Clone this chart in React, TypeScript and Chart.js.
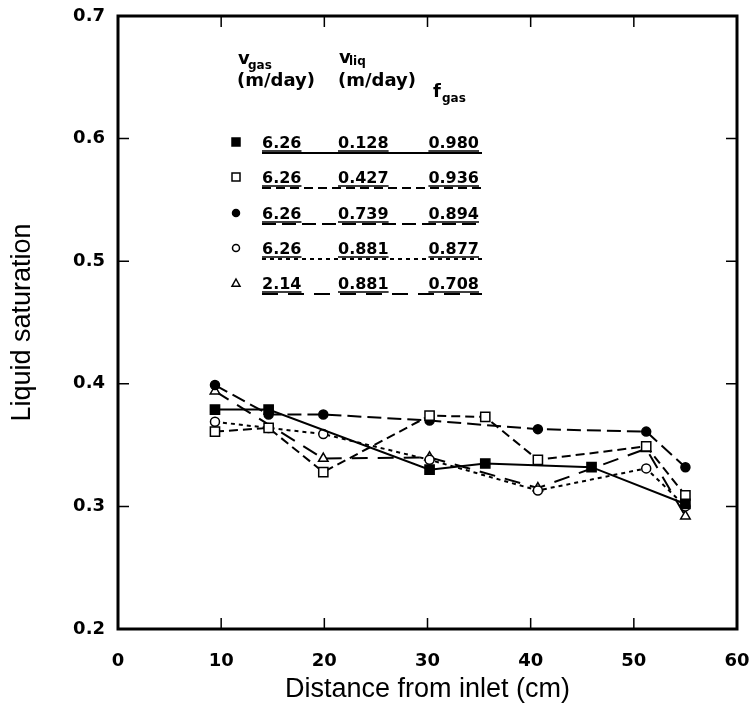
import React, { useEffect, useRef } from "react";
import { Chart, registerables } from "chart.js";

Chart.register(...registerables);

// ---- axes ----
const X_TICKS = [0, 10, 20, 30, 40, 50, 60];
const Y_TICKS = [0.2, 0.3, 0.4, 0.5, 0.6, 0.7];
const X_TITLE = "Distance from inlet (cm)";
const Y_TITLE = "Liquid saturation";

// ---- series (distance cm, liquid saturation) ----
const s1Dist = [9.4, 14.6, 30.2, 35.6, 45.9, 55.0];
const s1Sat = [0.379, 0.379, 0.33, 0.335, 0.332, 0.302];

const s2Dist = [9.4, 14.6, 19.9, 30.2, 35.6, 40.7, 51.2, 55.0];
const s2Sat = [0.361, 0.364, 0.328, 0.374, 0.373, 0.338, 0.349, 0.309];

const s3Dist = [9.4, 14.6, 19.9, 30.2, 40.7, 51.2, 55.0];
const s3Sat = [0.399, 0.375, 0.375, 0.37, 0.363, 0.361, 0.332];

const s4Dist = [9.4, 14.6, 19.9, 30.2, 40.7, 51.2, 55.0];
const s4Sat = [0.369, 0.364, 0.359, 0.338, 0.313, 0.331, 0.3];

const s5Dist = [9.4, 19.9, 30.2, 40.7, 51.2, 55.0];
const s5Sat = [0.394, 0.339, 0.34, 0.315, 0.347, 0.292];

// ---- legend table ----
const vGas = ["6.26", "6.26", "6.26", "6.26", "2.14"];
const vLiq = ["0.128", "0.427", "0.739", "0.881", "0.881"];
const fGas = ["0.980", "0.936", "0.894", "0.877", "0.708"];

type Style = { shape: "rect" | "circle" | "triangle"; filled: boolean; dash: number[]; r: number };
const STYLES: Style[] = [
  { shape: "rect", filled: true, dash: [], r: 6.5 },
  { shape: "rect", filled: false, dash: [9, 5], r: 6.5 },
  { shape: "circle", filled: true, dash: [14, 6], r: 4.5 },
  { shape: "circle", filled: false, dash: [4, 4], r: 4.5 },
  { shape: "triangle", filled: false, dash: [16, 10], r: 5.5 },
];

const FONT = "'DejaVu Sans', sans-serif";
const TITLE_FONT = "'Liberation Sans', sans-serif";

function drawMarker(ctx: CanvasRenderingContext2D, st: Style, x: number, y: number, s: number) {
  ctx.save();
  ctx.setLineDash([]);
  ctx.lineWidth = 1.5;
  ctx.strokeStyle = "#000";
  ctx.fillStyle = st.filled ? "#000" : "#fff";
  ctx.beginPath();
  if (st.shape === "rect") {
    ctx.rect(x - s, y - s, 2 * s, 2 * s);
  } else if (st.shape === "circle") {
    ctx.arc(x, y, s, 0, Math.PI * 2);
  } else {
    ctx.moveTo(x, y - s);
    ctx.lineTo(x + s, y + s * 0.8);
    ctx.lineTo(x - s, y + s * 0.8);
    ctx.closePath();
  }
  ctx.fill();
  ctx.stroke();
  ctx.restore();
}

const framePlugin = {
  id: "frameAndTable",
  afterDraw(chart: any) {
    const { ctx, chartArea: a, scales } = chart;
    ctx.save();
    ctx.strokeStyle = "#000";
    ctx.setLineDash([]);
    // frame
    ctx.lineWidth = 3;
    ctx.strokeRect(a.left, a.top, a.right - a.left, a.bottom - a.top);
    // inward ticks
    ctx.lineWidth = 1.5;
    const tl = 11;
    ctx.beginPath();
    X_TICKS.forEach((v) => {
      const x = scales.x.getPixelForValue(v);
      if (x <= a.left + 1 || x >= a.right - 1) return;
      ctx.moveTo(x, a.bottom);
      ctx.lineTo(x, a.bottom - tl);
      ctx.moveTo(x, a.top);
      ctx.lineTo(x, a.top + tl);
    });
    Y_TICKS.forEach((v) => {
      const y = scales.y.getPixelForValue(v);
      if (y <= a.top + 1 || y >= a.bottom - 1) return;
      ctx.moveTo(a.left, y);
      ctx.lineTo(a.left + tl, y);
      ctx.moveTo(a.right, y);
      ctx.lineTo(a.right - tl, y);
    });
    ctx.stroke();

    // legend table
    const L = a.left;
    const T = a.top;
    ctx.fillStyle = "#000";
    ctx.textBaseline = "alphabetic";
    ctx.textAlign = "left";
    // header
    ctx.font = `bold 18px ${FONT}`;
    ctx.fillText("v", L + 120, T + 48);
    ctx.fillText("(m/day)", L + 119, T + 70);
    ctx.fillText("v", L + 221, T + 47);
    ctx.fillText("(m/day)", L + 220, T + 70);
    ctx.fillText("f", L + 315, T + 81);
    ctx.font = `bold 12px ${FONT}`;
    ctx.fillText("gas", L + 130, T + 53);
    ctx.fillText("liq", L + 231, T + 49);
    ctx.fillText("gas", L + 324, T + 86);

    const baselines = [148, 183, 219, 254, 289];
    const c1 = L + 144;
    const c2 = L + 220;
    const c3 = L + 361;
    const ulStart = L + 144;
    const ulEnd = L + 364;
    ctx.font = `bold 16px ${FONT}`;
    baselines.forEach((b, i) => {
      const st = STYLES[i];
      const y = b;
      drawMarker(ctx, st, L + 118, y - 6, st.shape === "circle" ? 3.5 : 4);
      ctx.textAlign = "left";
      ctx.fillText(vGas[i], c1, y);
      ctx.fillText(vLiq[i], c2, y);
      ctx.textAlign = "right";
      ctx.fillText(fGas[i], c3, y);
      // text underlines
      ctx.setLineDash([]);
      ctx.lineWidth = 1.5;
      ctx.beginPath();
      const w1 = ctx.measureText(vGas[i]).width;
      const w2 = ctx.measureText(vLiq[i]).width;
      const w3 = ctx.measureText(fGas[i]).width;
      ctx.moveTo(c1, y + 3);
      ctx.lineTo(c1 + w1, y + 3);
      ctx.moveTo(c2, y + 3);
      ctx.lineTo(c2 + w2, y + 3);
      ctx.moveTo(c3 - w3, y + 3);
      ctx.lineTo(c3, y + 3);
      ctx.stroke();
      // style line
      ctx.lineWidth = 2;
      ctx.setLineDash(st.dash);
      ctx.beginPath();
      ctx.moveTo(ulStart, y + 5);
      ctx.lineTo(ulEnd, y + 5);
      ctx.stroke();
    });
    ctx.restore();
  },
};

function makeDataset(label: string, xs: number[], ys: number[], st: Style) {
  return {
    label,
    data: xs.map((x, i) => ({ x, y: ys[i] })),
    borderColor: "#000",
    backgroundColor: st.filled ? "#000" : "#fff",
    borderWidth: 2,
    borderDash: st.dash,
    pointStyle: st.shape,
    pointRadius: st.r,
    pointBorderWidth: 1.5,
    pointBorderColor: "#000",
    pointBackgroundColor: st.filled ? "#000" : "#fff",
    tension: 0,
    fill: false,
  };
}

export default function App() {
  const ref = useRef<HTMLCanvasElement | null>(null);
  useEffect(() => {
    if (!ref.current) return;
    const chart = new Chart(ref.current, {
      type: "line",
      data: {
        datasets: [
          makeDataset("0.980", s1Dist, s1Sat, STYLES[0]),
          makeDataset("0.936", s2Dist, s2Sat, STYLES[1]),
          makeDataset("0.894", s3Dist, s3Sat, STYLES[2]),
          makeDataset("0.877", s4Dist, s4Sat, STYLES[3]),
          makeDataset("0.708", s5Dist, s5Sat, STYLES[4]),
        ] as any,
      },
      options: {
        responsive: false,
        animation: false,
        devicePixelRatio: 1,
        layout: { padding: { top: 16, right: 14, left: 0, bottom: 0 } },
        plugins: { legend: { display: false }, tooltip: { enabled: false } },
        scales: {
          x: {
            type: "linear",
            min: 0,
            max: 60,
            afterFit: (s: any) => {
              s.height = 85;
              s.paddingLeft = 0;
              s.paddingRight = 0;
              s.paddingTop = 0;
              s.paddingBottom = 0;
            },
            afterBuildTicks: (s: any) => {
              s.ticks = X_TICKS.map((v) => ({ value: v }));
            },
            grid: { display: false, drawTicks: false },
            border: { display: false },
            ticks: {
              color: "#000",
              padding: 22,
              maxRotation: 0,
              font: { family: FONT, size: 18, weight: "bold" },
              callback: (v: any) => String(v),
            },
            title: {
              display: true,
              text: X_TITLE,
              color: "#000",
              font: { family: TITLE_FONT, size: 27 },
              padding: { top: 0, bottom: 8 },
            },
          },
          y: {
            type: "linear",
            min: 0.2,
            max: 0.7,
            afterFit: (s: any) => {
              s.width = 118;
              s.paddingLeft = 0;
              s.paddingRight = 0;
              s.paddingTop = 0;
              s.paddingBottom = 0;
            },
            afterBuildTicks: (s: any) => {
              s.ticks = Y_TICKS.map((v) => ({ value: v }));
            },
            grid: { display: false, drawTicks: false },
            border: { display: false },
            ticks: {
              color: "#000",
              padding: 13,
              font: { family: FONT, size: 18, weight: "bold" },
              callback: (v: any) => Number(v).toFixed(1),
            },
            title: {
              display: true,
              text: Y_TITLE,
              color: "#000",
              font: { family: TITLE_FONT, size: 27 },
              padding: { top: 6, bottom: 0 },
            },
          },
        },
      } as any,
      plugins: [framePlugin],
    });
    return () => chart.destroy();
  }, []);
  return (
    <div style={{ position: "absolute", left: 0, top: 0, width: 751, height: 714, background: "#fff" }}>
      <canvas ref={ref} width={751} height={714} style={{ display: "block" }} />
    </div>
  );
}
